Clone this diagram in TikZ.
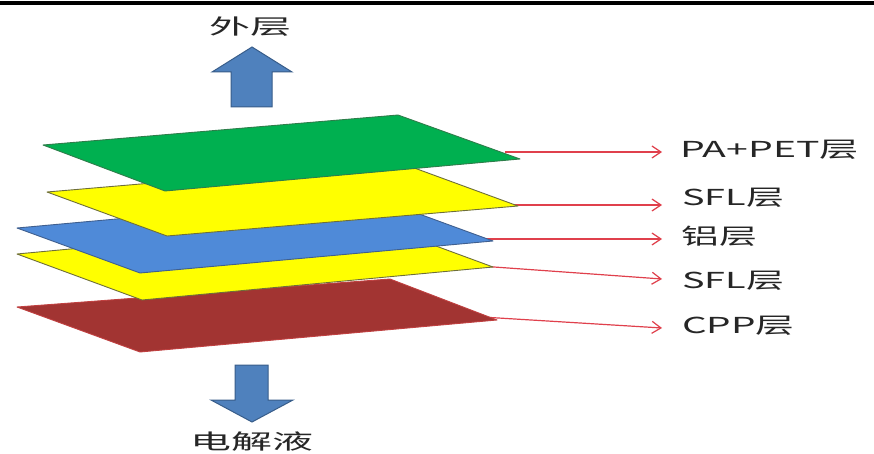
\documentclass[tikz,border=0pt]{standalone}
\usepackage{fontspec}
\usepackage{graphicx}
\newfontfamily\cjk{Noto Sans CJK SC}
\usetikzlibrary{arrows.meta}

\definecolor{pagebar}{HTML}{000000}
\definecolor{filmgreen}{HTML}{00B050}
\definecolor{edgegreen}{HTML}{2E7D4A}
\definecolor{filmyellow}{HTML}{FFFF00}
\definecolor{edgeyellow}{HTML}{6E6E3A}
\definecolor{filmblue}{HTML}{4F8AD8}
\definecolor{edgeblue}{HTML}{3F5F8F}
\definecolor{filmred}{HTML}{A23432}
\definecolor{edgered}{HTML}{C04040}
\definecolor{leadred}{HTML}{E0404C}
\definecolor{flowblue}{HTML}{4F81BD}
\definecolor{flowedge}{HTML}{385D8A}
\definecolor{labelgray}{HTML}{262626}

% horizontally widened text
\newcommand\widetext[2]{\scalebox{#1}[1]{#2}}

\begin{document}
\begin{tikzpicture}[x=1pt,y=-1pt,
  film/.style={line width=0.9pt, line join=round},
  lead/.style={draw=leadred, line width=1.2pt,
    -{Straight Barb[length=9pt,width=12pt,line width=1.2pt]}},
  tag/.style={anchor=west, inner sep=0pt, text=labelgray,
    font=\cjk\fontsize{22}{22}\selectfont},
  dirlabel/.style={inner sep=0pt, text=labelgray,
    font=\cjk\fontsize{21}{21}\selectfont},
  flow/.style={fill=flowblue, draw=flowedge, line width=1pt, line join=miter}]

% canvas and top rule
\fill[white] (0,0) rectangle (874,454);
\useasboundingbox (0,0) rectangle (874,454);
\fill[pagebar] (0,1.5) rectangle (874,5);

% layer labels
\node[tag] (lPA)  at (680,150) {\widetext{1.78}{PA+PET层}};
\node[tag] (lSF1) at (682,198) {\widetext{1.72}{SFL层}};
\node[tag] (lAl)  at (681,236) {\widetext{1.72}{铝层}};
\node[tag] (lSF2) at (682,281) {\widetext{1.72}{SFL层}};
\node[tag] (lCPP) at (682,326) {\widetext{1.76}{CPP层}};

% leader start points at the right corners of the films
\coordinate (sPA)  at (505,152);
\coordinate (sSF1) at (505,205);
\coordinate (sAl)  at (485,239);
\coordinate (sSF2) at (480,266);
\coordinate (sCPP) at (482,317);

% leaders (under the films)
\draw[lead] (sPA)  -- ([xshift=-18pt,yshift=-2pt]lPA.west);
\draw[lead] (sSF1) -- ([xshift=-20pt,yshift=-7pt]lSF1.west);
\draw[lead] (sAl)  -- ([xshift=-19pt,yshift=-3pt]lAl.west);
\draw[lead] (sSF2) -- ([xshift=-20pt,yshift=2pt]lSF2.west);
\draw[lead] (sCPP) -- ([xshift=-20pt,yshift=-2pt]lCPP.west);

% films, bottom to top
\filldraw[film, fill=filmred, draw=edgered]
  (17,307) -- (390,279) -- (497,320) -- (140,352) -- cycle;
\filldraw[film, fill=filmyellow, draw=edgeyellow]
  (17,254) -- (368,221) -- (493,267) -- (142,300) -- cycle;
\filldraw[film, fill=filmblue, draw=edgeblue]
  (17,228) -- (370,196) -- (493,241) -- (140,273) -- cycle;
\filldraw[film, fill=filmyellow, draw=edgeyellow]
  (47,192) -- (398,162) -- (518,206) -- (167,236) -- cycle;
\filldraw[film, fill=filmgreen, draw=edgegreen]
  (43,145) -- (398,115) -- (520,159) -- (165,191) -- cycle;

% outward / inward direction
\node[dirlabel] (out) at (250,27) {\widetext{1.95}{外层}};
\filldraw[flow] (231,107) -- (231,72) -- (212,72) -- (252,47) -- (292,72)
  -- (272,72) -- (272,107) -- cycle;
\filldraw[flow] (235,365) -- (268,365) -- (268,400) -- (293,400) -- (252,422)
  -- (211,400) -- (235,400) -- cycle;
\node[dirlabel] (elec) at (252,442) {\widetext{1.95}{电解液}};
\end{tikzpicture}
\end{document}
